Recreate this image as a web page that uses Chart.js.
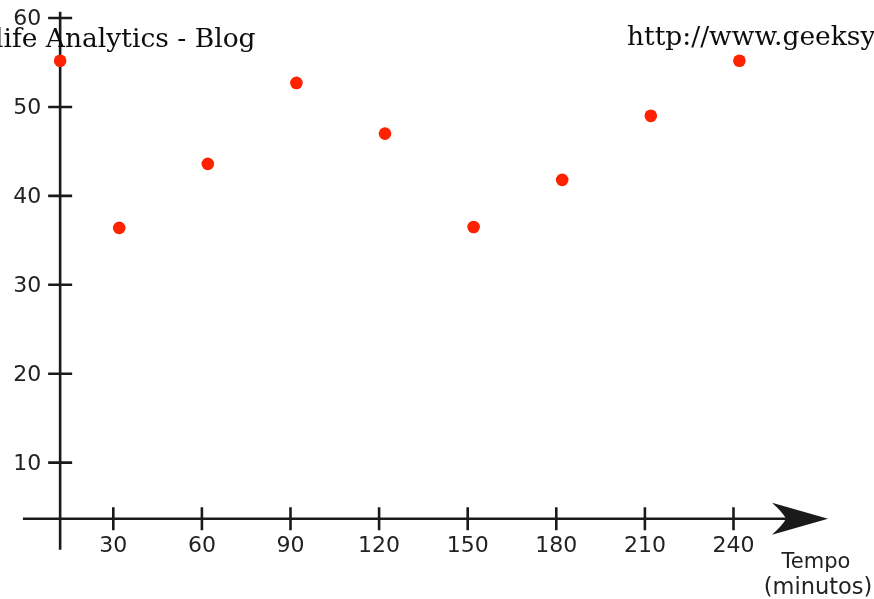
<!DOCTYPE html>
<html>
<head>
<meta charset="utf-8">
<script src="https://cdn.jsdelivr.net/npm/chart.js@4.4.0/dist/chart.umd.min.js"></script>
<style>
  html, body { margin: 0; padding: 0; background: #fff; }
  #wrap { position: relative; width: 874px; height: 599px; overflow: hidden; }
</style>
</head>
<body>
<div id="wrap"><canvas id="chart"></canvas></div>
<script>
// Tempo (minutos) - scatter
const tempos = [12, 32, 62, 92, 122, 152, 182, 212, 242];
const valores = [55.2, 36.4, 43.6, 52.7, 47.0, 36.5, 41.8, 49.0, 55.2];
const xTicks = [30, 60, 90, 120, 150, 180, 210, 240];
const yTicks = [10, 20, 30, 40, 50, 60];
const headerLeft = 'life Analytics - Blog';
const headerRight = 'http://www.geeksy';
const xTitle = ['Tempo', '(minutos)'];

// where the two axes cross (data units)
const yAxisAt = 12;
const xAxisAt = 3.7;

const ink = '#1a1a1a';

// axes drawn by hand: they cross inside the plot and have an arrow head
const crossAxes = {
    id: 'crossAxes',
    beforeDatasetsDraw(chart) {
        const { ctx, chartArea, scales: { x, y } } = chart;
        const ax = x.getPixelForValue(yAxisAt);
        const ay = y.getPixelForValue(xAxisAt);
        const tip = chartArea.right;

        ctx.save();
        ctx.strokeStyle = ink;
        ctx.fillStyle = ink;
        ctx.lineWidth = 2.6;

        // y axis
        ctx.beginPath();
        ctx.moveTo(ax, y.getPixelForValue(0.2));
        ctx.lineTo(ax, y.getPixelForValue(60.7));
        ctx.stroke();

        // x axis + arrow
        ctx.beginPath();
        ctx.moveTo(x.getPixelForValue(-0.6), ay);
        ctx.lineTo(tip - 40, ay);
        ctx.stroke();

        ctx.beginPath();
        ctx.moveTo(tip, ay);
        ctx.lineTo(tip - 56, ay - 16);
        ctx.quadraticCurveTo(tip - 45, ay - 6, tip - 42, ay);
        ctx.quadraticCurveTo(tip - 45, ay + 6, tip - 56, ay + 16);
        ctx.closePath();
        ctx.fill();

        // ticks
        ctx.beginPath();
        yTicks.forEach(v => {
            const py = y.getPixelForValue(v);
            ctx.moveTo(ax - 12, py);
            ctx.lineTo(ax + 12, py);
        });
        xTicks.forEach(v => {
            const px = x.getPixelForValue(v);
            ctx.moveTo(px, ay - 11.5);
            ctx.lineTo(px, ay + 11.5);
        });
        ctx.stroke();

        // tick labels
        ctx.fillStyle = '#222';
        ctx.font = '22px "DejaVu Sans"';
        ctx.textAlign = 'right';
        ctx.textBaseline = 'middle';
        yTicks.forEach(v => ctx.fillText(String(v), ax - 19, y.getPixelForValue(v) + 1.5));
        ctx.textAlign = 'center';
        xTicks.forEach(v => ctx.fillText(String(v), x.getPixelForValue(v), ay + 28));

        // axis title
        ctx.textBaseline = 'alphabetic';
        ctx.font = '21px "DejaVu Sans"';
        ctx.fillText(xTitle[0], 816, 568);
        ctx.font = '22.5px "DejaVu Sans"';
        ctx.fillText(xTitle[1], 818, 594);
        ctx.restore();
    },
    afterDraw(chart) {
        const { ctx } = chart;
        ctx.save();
        ctx.fillStyle = '#0d0d0d';
        ctx.font = '26.5px "DejaVu Serif"';
        ctx.textBaseline = 'alphabetic';
        ctx.textAlign = 'left';
        ctx.fillText(headerLeft, -5, 46.5);
        ctx.fillText(headerRight, 627, 45);
        ctx.restore();
    }
};

new Chart(document.getElementById('chart'), {
    type: 'scatter',
    data: {
        datasets: [{
            data: tempos.map((t, i) => ({ x: t, y: valores[i] })),
            backgroundColor: '#ff2200',
            borderWidth: 0,
            pointRadius: 6.3,
            clip: false
        }]
    },
    options: {
        responsive: true,
        maintainAspectRatio: false,
        animation: false,
        layout: { padding: { left: 24.7, right: 46, top: 18, bottom: 47.4 } },
        plugins: {
            legend: { display: false },
            tooltip: { enabled: false }
        },
        scales: {
            x: { type: 'linear', min: 0, max: 272, display: false },
            y: { type: 'linear', min: 0, max: 60, display: false }
        }
    },
    plugins: [crossAxes]
});
</script>
</body>
</html>
